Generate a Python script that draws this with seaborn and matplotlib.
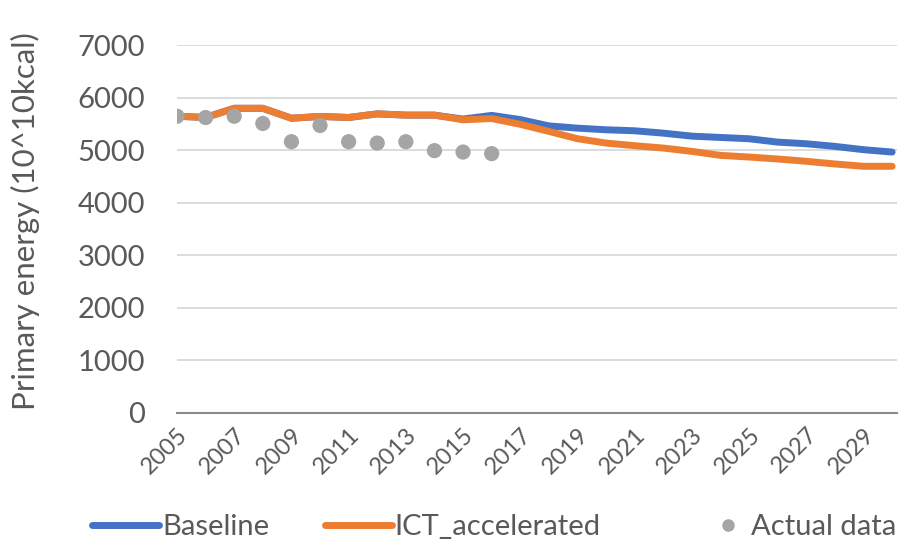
import matplotlib
matplotlib.use("Agg")
import matplotlib.pyplot as plt
import seaborn as sns
import pandas as pd
import numpy as np
from matplotlib.lines import Line2D

years = list(range(2005, 2031))
baseline = [5644, 5620, 5795, 5795, 5606, 5640, 5620, 5689, 5665, 5665, 5590, 5660,
            5580, 5460, 5417, 5386, 5367, 5322, 5265, 5240, 5215, 5151, 5120, 5070, 5007, 4962]
ict = [5644, 5620, 5795, 5795, 5606, 5640, 5620, 5689, 5665, 5665, 5576, 5600,
       5490, 5355, 5216, 5133, 5083, 5038, 4975, 4899, 4867, 4830, 4786, 4735, 4691, 4691]
actual_years = list(range(2005, 2017))
actual = [5644, 5619, 5644, 5506, 5159, 5468, 5159, 5133, 5159, 4989, 4962, 4932]

tick_years = list(range(2005, 2030, 2))
yticks = [0, 1000, 2000, 3000, 4000, 5000, 6000, 7000]

sns.set_theme(style="white")
plt.rcParams['font.family'] = ['Lato', 'DejaVu Sans']

df = pd.DataFrame({
    "year": years * 2,
    "value": baseline + ict,
    "series": ["Baseline"] * len(years) + ["ICT_accelerated"] * len(years),
})
dfa = pd.DataFrame({"year": actual_years, "value": actual, "series": "Actual data"})

fig = plt.figure(figsize=(8.99, 5.43), dpi=100)
ax = fig.add_axes([177/899, 1 - 412.7/543, (897-177)/899, (412.7-45)/543])

txt = "#595959"
for v in yticks:
    if v > 0:
        ax.axhline(v, color="#d9d9d9", lw=1.3, zorder=0)

sns.lineplot(data=df, x="year", y="value", hue="series",
             palette={"Baseline": "#4472C4", "ICT_accelerated": "#ED7D31"},
             linewidth=5, ax=ax, legend=False, zorder=3)
sns.scatterplot(data=dfa, x="year", y="value", color="#A5A5A5", s=120,
                edgecolor="none", ax=ax, legend=False, zorder=4)

ax.set_xlim(2005, 2030.17)
ax.set_ylim(0, 7000)
ax.set_yticks(yticks)
ax.set_yticklabels([str(v) for v in yticks], fontsize=21, color=txt)
ax.set_xticks(tick_years)
ax.set_xticklabels([str(y) for y in tick_years], fontsize=17, color=txt,
                   rotation=45, ha="right", va="top", rotation_mode="anchor")
ax.tick_params(axis="both", length=0)
ax.tick_params(axis="y", pad=23)
ax.tick_params(axis="x", pad=8)
ax.set_xlabel("")
ax.set_ylabel("Primary energy (10^10kcal)", fontsize=22.5, color=txt)
ax.yaxis.set_label_coords(-0.19, 0.52)

for s in ["top", "right", "left"]:
    ax.spines[s].set_visible(False)
ax.spines["bottom"].set_color("#8c8c8c")
ax.spines["bottom"].set_linewidth(1.5)

h_lines = [Line2D([], [], color="#4472C4", lw=5),
           Line2D([], [], color="#ED7D31", lw=5)]
leg1 = fig.legend(h_lines, ["Baseline", "ICT_accelerated"],
                  loc="center left", bbox_to_anchor=(92/899, 0.029), ncol=2, frameon=False,
                  fontsize=21, handlelength=2.3, handletextpad=0.1, columnspacing=1.9,
                  borderpad=0, borderaxespad=0)
h_pt = [Line2D([], [], color="#A5A5A5", lw=0, marker="o", markersize=8)]
leg2 = fig.legend(h_pt, ["Actual data"],
                  loc="center left", bbox_to_anchor=(713/899, 0.029), frameon=False,
                  fontsize=21, handlelength=1.0, handletextpad=0.3,
                  borderpad=0, borderaxespad=0)
for leg in (leg1, leg2):
    for t in leg.get_texts():
        t.set_color(txt)

fig.savefig("out.png", dpi=100)
